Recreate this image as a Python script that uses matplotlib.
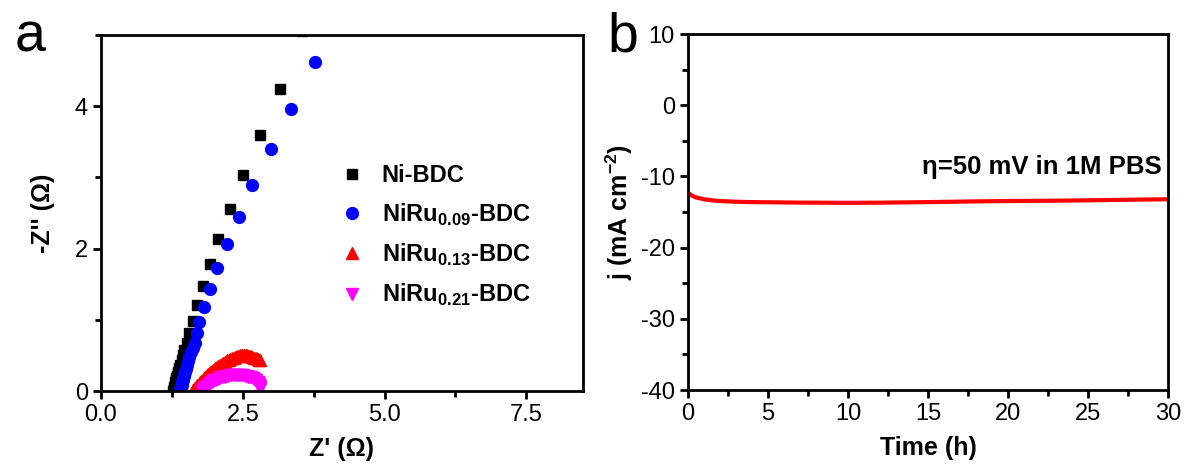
import matplotlib
matplotlib.use('Agg')
from matplotlib import pyplot as plt
from matplotlib.ticker import MultipleLocator, FormatStrFormatter

plt.rcParams['font.family'] = ['Liberation Sans', 'DejaVu Sans']
plt.rcParams['mathtext.fontset'] = 'custom'
plt.rcParams['mathtext.rm'] = 'Liberation Sans'
plt.rcParams['mathtext.bf'] = 'Liberation Sans:bold'
plt.rcParams['axes.unicode_minus'] = False

# panel a: Nyquist data (Z', -Z'')
ni_re = [1.27, 1.28, 1.29, 1.30, 1.31, 1.32, 1.33, 1.34, 1.35, 1.36, 1.37, 1.38,
         1.40, 1.42, 1.44, 1.47, 1.51, 1.56, 1.62, 1.69, 1.80, 1.92, 2.07, 2.27,
         2.51, 2.81, 3.16, 3.55]
ni_im = [0.00, 0.03, 0.06, 0.09, 0.12, 0.15, 0.18, 0.21, 0.24, 0.27, 0.30, 0.33,
         0.37, 0.43, 0.50, 0.58, 0.67, 0.81, 0.99, 1.21, 1.47, 1.78, 2.14, 2.56,
         3.04, 3.60, 4.25, 5.06]

ru09_re = [1.39, 1.40, 1.41, 1.42, 1.43, 1.44, 1.45, 1.46, 1.47, 1.48, 1.50, 1.52,
           1.54, 1.56, 1.59, 1.62, 1.65, 1.69, 1.73, 1.82, 1.92, 2.05, 2.22, 2.43,
           2.67, 2.99, 3.35, 3.77]
ru09_im = [0.00, 0.03, 0.06, 0.09, 0.12, 0.15, 0.18, 0.21, 0.24, 0.27, 0.31, 0.36,
           0.42, 0.48, 0.55, 0.61, 0.67, 0.81, 0.97, 1.18, 1.43, 1.73, 2.06, 2.45,
           2.89, 3.40, 3.96, 4.62]

ru13_re = [1.62, 1.64, 1.66, 1.68, 1.70, 1.72, 1.74, 1.77, 1.79, 1.82, 1.84, 1.87,
           1.89, 1.92, 1.95, 1.98, 2.01, 2.04, 2.07, 2.10, 2.13, 2.16, 2.19, 2.22,
           2.25, 2.28, 2.31, 2.34, 2.37, 2.40, 2.43, 2.46, 2.49, 2.52, 2.55, 2.58,
           2.61, 2.64, 2.67, 2.70, 2.73, 2.76, 2.78, 2.80]
ru13_im = [0.01, 0.03, 0.04, 0.06, 0.08, 0.10, 0.12, 0.14, 0.16, 0.18, 0.20, 0.22,
           0.24, 0.26, 0.28, 0.30, 0.32, 0.34, 0.35, 0.37, 0.38, 0.40, 0.41, 0.43,
           0.44, 0.45, 0.46, 0.47, 0.48, 0.49, 0.49, 0.50, 0.50, 0.50, 0.50, 0.50,
           0.49, 0.49, 0.48, 0.47, 0.46, 0.45, 0.44, 0.43]

ru21_re = [1.78, 1.80, 1.82, 1.84, 1.86, 1.88, 1.90, 1.93, 1.95, 1.98, 2.00, 2.03,
           2.06, 2.09, 2.12, 2.15, 2.18, 2.21, 2.24, 2.27, 2.30, 2.33, 2.36, 2.39,
           2.42, 2.45, 2.48, 2.51, 2.54, 2.57, 2.60, 2.63, 2.65, 2.68, 2.70, 2.72,
           2.74, 2.76, 2.77, 2.78, 2.79, 2.80, 2.80, 2.80]
ru21_im = [0.00, 0.02, 0.03, 0.05, 0.06, 0.08, 0.09, 0.11, 0.12, 0.14, 0.15, 0.16,
           0.17, 0.18, 0.19, 0.20, 0.20, 0.21, 0.21, 0.22, 0.22, 0.22, 0.22, 0.22,
           0.22, 0.22, 0.22, 0.22, 0.21, 0.21, 0.20, 0.20, 0.19, 0.18, 0.17, 0.16,
           0.15, 0.13, 0.12, 0.10, 0.09, 0.07, 0.05, 0.03]

# panel b: chronoamperometry
time_h = [0, 0.25, 0.5, 1, 1.5, 2, 3, 4, 5, 7, 10, 12, 15, 18, 20, 23, 25, 28, 30]
current = [-12.3, -12.7, -12.95, -13.2, -13.35, -13.45, -13.55, -13.6, -13.62, -13.67,
           -13.7, -13.68, -13.6, -13.5, -13.45, -13.4, -13.35, -13.25, -13.2]

TICK_FS = 17
LABEL_FS = 18


def style_axes(ax):
    for sp in ax.spines.values():
        sp.set_linewidth(2)
    ax.tick_params(which='both', direction='out', width=2, labelsize=TICK_FS,
                   top=False, right=False)
    ax.tick_params(which='major', length=6)
    ax.tick_params(which='minor', length=4)


def main():
    fig = plt.figure(figsize=(11.84, 4.72), dpi=100)
    ax_a = fig.add_axes([0.0853, 0.1716, 0.4071, 0.754])
    ax_b = fig.add_axes([0.5811, 0.1737, 0.4054, 0.754])

    ax_a.plot(ni_re, ni_im, 's', color='black', ms=7, label='Ni-BDC')
    ax_a.plot(ru09_re, ru09_im, 'o', color='blue', ms=8.5,
              label=r'NiRu$_{\mathbf{0.09}}$-BDC')
    ax_a.plot(ru13_re, ru13_im, '^', color='red', ms=9,
              label=r'NiRu$_{\mathbf{0.13}}$-BDC')
    ax_a.plot(ru21_re, ru21_im, 'v', color='magenta', ms=9,
              label=r'NiRu$_{\mathbf{0.21}}$-BDC')
    ax_a.set_xlim(0, 8.5)
    ax_a.set_ylim(0, 5)
    ax_a.xaxis.set_major_locator(MultipleLocator(2.5))
    ax_a.xaxis.set_minor_locator(MultipleLocator(1.25))
    ax_a.yaxis.set_major_locator(MultipleLocator(2))
    ax_a.yaxis.set_minor_locator(MultipleLocator(1))
    ax_a.xaxis.set_major_formatter(FormatStrFormatter('%.1f'))
    style_axes(ax_a)
    ax_a.set_xlabel("Z' (\u03a9)", fontsize=LABEL_FS, fontweight='bold', labelpad=8)
    ax_a.set_ylabel("-Z'' (\u03a9)", fontsize=LABEL_FS, fontweight='bold', labelpad=14)
    ax_a.legend(loc='center left', bbox_to_anchor=(0.472, 0.435), frameon=False,
                numpoints=1, handlelength=1.0, handletextpad=0.75, labelspacing=0.6,
                borderpad=0, prop={'weight': 'bold', 'size': 17})
    fig.text(0.012, 0.975, 'a', fontsize=40, va='top', ha='left')

    ax_b.plot(time_h, current, '-', color='red', lw=3)
    ax_b.set_xlim(0, 30)
    ax_b.set_ylim(-40, 10)
    ax_b.xaxis.set_major_locator(MultipleLocator(5))
    ax_b.xaxis.set_minor_locator(MultipleLocator(2.5))
    ax_b.yaxis.set_major_locator(MultipleLocator(10))
    ax_b.yaxis.set_minor_locator(MultipleLocator(5))
    style_axes(ax_b)
    ax_b.set_xlabel('Time (h)', fontsize=LABEL_FS, fontweight='bold', labelpad=8)
    ax_b.set_ylabel(r'j (mA cm$^{\mathbf{-2}}$)', fontsize=LABEL_FS,
                    fontweight='bold', labelpad=4)
    ax_b.text(29.6, -8.6, '\u03b7=50 mV in 1M PBS', ha='right', va='center',
              fontsize=18.5, fontweight='bold')
    fig.text(0.513, 0.975, 'b', fontsize=40, va='top', ha='left')

    fig.savefig('out.png', dpi=100)


if __name__ == '__main__':
    main()
